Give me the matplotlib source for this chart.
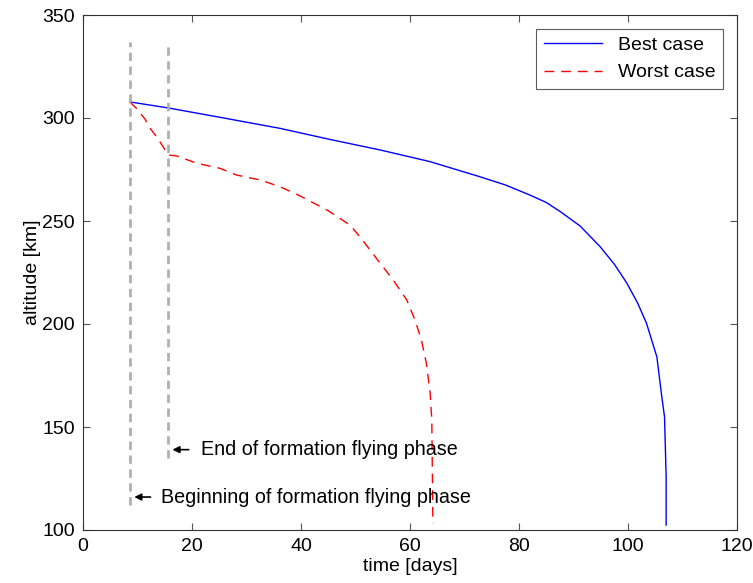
import numpy as np
import matplotlib.pyplot as plt

plt.rcParams['font.family'] = ['Liberation Sans', 'DejaVu Sans']

# Best case: time [days], altitude [km]
t_best = [8.6, 15.6, 25.0, 36.1, 45.3, 54.5, 63.7, 72.8, 77.5, 82.0, 85.0, 87.5,
          91.2, 94.9, 97.5, 99.8, 101.8, 103.4, 105.3, 106.2, 106.7, 107.0, 107.0]
alt_best = [307.8, 304.9, 300.4, 295.0, 289.6, 284.5, 278.8, 271.5, 267.5, 262.6,
            259.0, 254.7, 247.6, 237.5, 229.0, 219.8, 210.0, 200.3, 184.0, 164.7,
            155.0, 125.9, 102.4]

# Worst case
t_worst = [8.6, 9.8, 11.4, 12.3, 13.6, 14.7, 15.7, 17.2, 20.9, 25.1, 28.2, 32.5,
           36.1, 39.5, 45.0, 49.0, 50.8, 54.5, 56.9, 59.4, 60.9, 62.1, 63.0, 63.7,
           64.0, 64.2]
alt_worst = [307.8, 304.7, 299.4, 295.0, 290.6, 286.0, 282.0, 281.6, 278.0, 275.6,
             272.3, 269.9, 266.7, 262.6, 255.0, 248.0, 242.4, 229.6, 221.4, 211.7,
             202.0, 192.2, 181.0, 166.4, 153.4, 103.0]

# Phase markers
t_begin, t_end = 8.6, 15.6

fig = plt.figure(figsize=(7.53, 5.83), dpi=100)
ax = fig.add_axes([83 / 753, 53 / 583, 654 / 753, 515 / 583])

ax.plot(t_best, alt_best, color='blue', lw=1.0, label='Best case')
ax.plot(t_worst, alt_worst, color='red', lw=1.0, ls=(0, (7, 5)), label='Worst case')

ax.plot([t_begin, t_begin], [112, 337], color='#b0b0b0', lw=2, ls=(0, (3, 2)))
ax.plot([t_end, t_end], [135, 337], color='#b0b0b0', lw=2, ls=(0, (3, 2)))

ax.annotate('', xy=(t_end + 0.3, 139), xytext=(t_end + 4.3, 139),
            arrowprops=dict(arrowstyle='-|>', color='black', lw=1.2, mutation_scale=10))
ax.text(t_end + 6.0, 139, 'End of formation flying phase', fontsize=14.2, va='center')
ax.annotate('', xy=(t_begin + 0.3, 116), xytext=(t_begin + 4.3, 116),
            arrowprops=dict(arrowstyle='-|>', color='black', lw=1.2, mutation_scale=10))
ax.text(t_begin + 5.7, 116, 'Beginning of formation flying phase', fontsize=14.2, va='center')

ax.set_xlim(0, 120)
ax.set_ylim(100, 350)
ax.set_xticks(np.arange(0, 121, 20))
ax.set_yticks(np.arange(100, 351, 50))
ax.tick_params(direction='in', labelsize=14, length=5, top=True, right=True,
               color='#555555', pad=6)
for s in ax.spines.values():
    s.set_color('#333333')
ax.set_xlabel('time [days]', fontsize=14, labelpad=2)
ax.set_ylabel('altitude [km]', fontsize=14, labelpad=1)

leg = ax.legend(loc='upper right', fontsize=14, fancybox=False, edgecolor='#333333',
                handlelength=3.0, borderaxespad=0.7)
leg.get_frame().set_linewidth(0.8)

fig.savefig('out.png', dpi=100)
